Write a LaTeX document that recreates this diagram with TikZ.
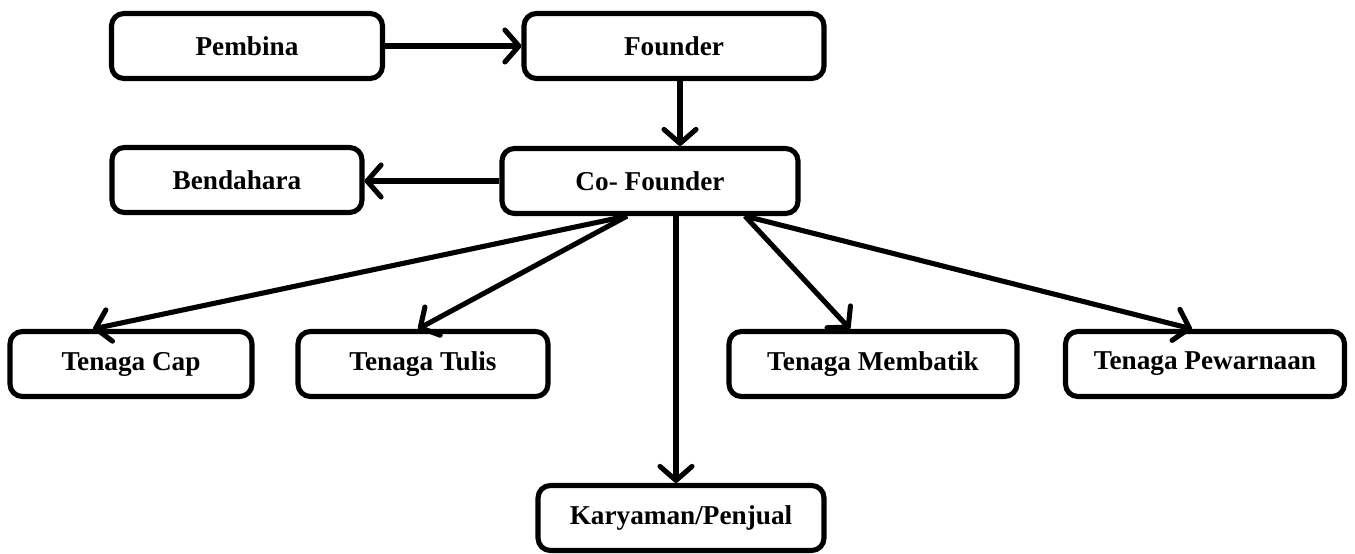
\documentclass[tikz,border=0pt]{standalone}
\usepackage{fontspec}
\setmainfont{Liberation Serif}
\usetikzlibrary{arrows.meta, positioning, calc}
\tikzset{
  orgbox/.style={draw, line width=2.9pt, rounded corners=7pt, fill=white,
                 minimum height=1.3cm, inner sep=2pt, align=center,
                 font=\fontsize{15.5}{18}\selectfont\bfseries},
  orgarrow/.style={line width=2.9pt,
                   -{Straight Barb[length=2.8mm, width=6.4mm, round]}},
}
\begin{document}
\begin{tikzpicture}[x=0.02cm, y=-0.02cm]
  \useasboundingbox (0,0) rectangle (1355,554);

  % Top level
  \node[orgbox, minimum width=5.42cm] (pembina) at (247,46) {Pembina};
  \node[orgbox, minimum width=6.0cm]  (founder) at (674,46) {Founder};

  % Second level
  \node[orgbox, minimum width=5.0cm]  (bendahara) at (237,180) {Bendahara};
  \node[orgbox, minimum width=5.92cm] (cofounder) at (650,181) {Co- Founder};

  % Workers
  \node[orgbox, minimum width=4.84cm] (cap)       at (131,364)  {Tenaga Cap};
  \node[orgbox, minimum width=5.0cm]  (tulis)     at (423,364)  {Tenaga Tulis};
  \node[orgbox, minimum width=5.76cm] (membatik)  at (873,364)  {Tenaga Membatik};
  \node[orgbox, minimum width=5.58cm] (pewarnaan) at (1205,364) {Tenaga Pewarnaan};
  \node[orgbox, minimum width=5.72cm] (karyawan)  at (681,518)  {Karyaman/Penjual};

  % Connectors
  \draw[orgarrow] (pembina.east) -- (founder.west);
  \draw[orgarrow] ([xshift=0.12cm]founder.south)
    -- ([xshift=0.12cm]founder.south |- cofounder.north);
  \draw[orgarrow] (cofounder.west) -- (cofounder.west -| bendahara.east);

  \coordinate (fanl) at ([xshift=-0.46cm]cofounder.south);
  \coordinate (fanr) at ([xshift=1.9cm]cofounder.south);
  \draw[orgarrow] (fanl) -- ([xshift=-0.76cm]cap.north);
  \draw[orgarrow] (fanl) -- ([xshift=-0.1cm]tulis.north);
  \draw[orgarrow] ([xshift=0.52cm]cofounder.south)
    -- ([xshift=0.52cm]cofounder.south |- karyawan.north);
  \draw[orgarrow] (fanr) -- ([xshift=-0.46cm]membatik.north);
  \draw[orgarrow] (fanr) -- ([xshift=-0.26cm]pewarnaan.north);
\end{tikzpicture}
\end{document}
